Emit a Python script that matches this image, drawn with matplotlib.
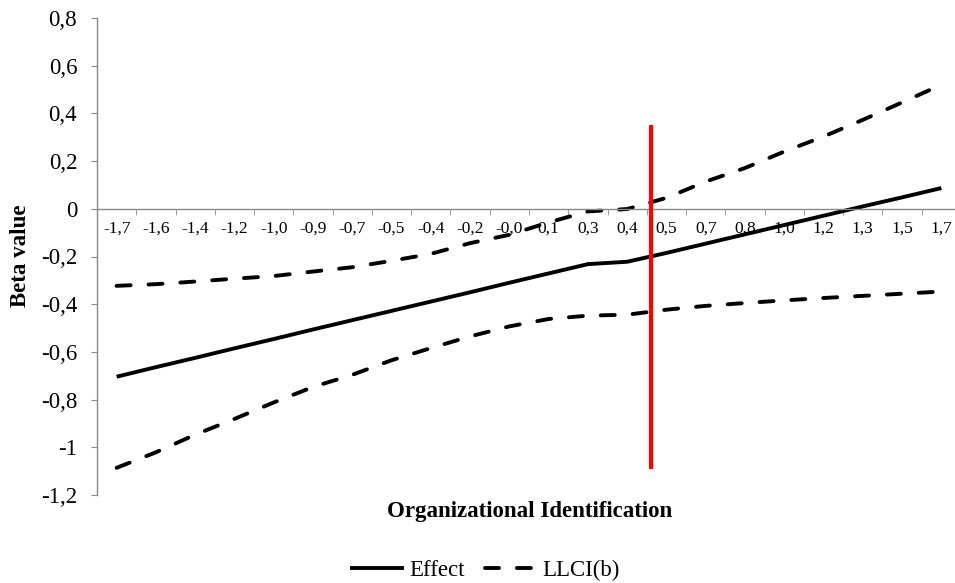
import numpy as np
import matplotlib
matplotlib.use("Agg")
import matplotlib.pyplot as plt
from matplotlib.lines import Line2D

plt.rcParams['font.family'] = ['Liberation Serif', 'DejaVu Serif']

# moderator values (category labels)
oi_labels = ['-1,7', '-1,6', '-1,4', '-1,2', '-1,0', '-0,9', '-0,7', '-0,5',
             '-0,4', '-0,2', '-0,0', '0,1', '0,3', '0,4', '0,5', '0,7',
             '0,8', '1,0', '1,2', '1,3', '1,5', '1,7']

effect = [-0.704, -0.664, -0.625, -0.585, -0.546, -0.506, -0.467, -0.428,
          -0.389, -0.350, -0.310, -0.271, -0.232, -0.222, -0.185, -0.146,
          -0.107, -0.068, -0.029, 0.010, 0.048, 0.087]
llci = [-1.086, -1.021, -0.947, -0.881, -0.812, -0.747, -0.696, -0.635,
        -0.584, -0.535, -0.493, -0.462, -0.448, -0.444, -0.423, -0.407,
        -0.395, -0.384, -0.374, -0.365, -0.356, -0.347]
ulci = [-0.323, -0.316, -0.305, -0.293, -0.282, -0.263, -0.245, -0.218,
        -0.189, -0.144, -0.109, -0.057, -0.011, -0.001, 0.046, 0.114,
        0.171, 0.240, 0.303, 0.373, 0.446, 0.520]

# Johnson-Neyman marker (between 0,4 and 0,5)
jn_x = 13.6
jn_y = [0.345, -1.081]

yticks = [0.8, 0.6, 0.4, 0.2, 0, -0.2, -0.4, -0.6, -0.8, -1, -1.2]
ytick_labels = ['0,8', '0,6', '0,4', '0,2', '0', '-0,2', '-0,4', '-0,6', '-0,8', '-1', '-1,2']

W, H = 955, 583
fig = plt.figure(figsize=(W / 100, H / 100), dpi=100)
ax = fig.add_axes([97 / W, 1 - 495 / H, 864 / W, 477 / H])

x = np.arange(len(oi_labels))
dash = (0, (3.6, 4.6))
ax.plot(x, effect, color='black', lw=2.8, solid_capstyle='butt')
ax.plot(x, llci, color='black', lw=2.8, linestyle=dash, dash_capstyle='round')
ax.plot(x, ulci, color='black', lw=2.8, linestyle=dash, dash_capstyle='round')
ax.plot([jn_x, jn_x], jn_y, color='#ff0000', lw=3, zorder=5)

ax.set_xlim(-0.5, len(oi_labels) - 0.5)
ax.set_ylim(-1.2, 0.8)

gray = '#898989'
for s in ['top', 'right']:
    ax.spines[s].set_visible(False)
ax.spines['left'].set_color(gray)
ax.spines['bottom'].set_color(gray)
ax.spines['bottom'].set_position(('data', 0))
ax.spines['left'].set_linewidth(1)
ax.spines['bottom'].set_linewidth(1)

ax.set_xticks(x)
ax.set_xticklabels(oi_labels, fontsize=12.5)
ax.set_xticks(np.arange(-0.5, len(oi_labels)), minor=True)
ax.tick_params(axis='x', which='major', length=0, pad=8.5)
ax.tick_params(axis='x', which='minor', length=4, color=gray, direction='out')

ax.set_yticks(yticks)
ax.set_yticklabels(ytick_labels, fontsize=16.5)
ax.tick_params(axis='y', length=4.3, color=gray, pad=10)

fig.text(20 / W, 1 - 256 / H, 'Beta value', rotation=90, fontsize=16.5,
         fontweight='bold', ha='center', va='center')
fig.text(530 / W, 1 - 512 / H, 'Organizational Identification', fontsize=16.5,
         fontweight='bold', ha='center', va='center')

handles = [Line2D([], [], color='black', lw=2.8),
           Line2D([], [], color='black', lw=2.8, linestyle=dash, dash_capstyle='round')]
fig.legend(handles, ['Effect', 'LLCI(b)'], loc='center', ncol=2,
           bbox_to_anchor=(486 / W, 1 - 570 / H), frameon=False, fontsize=16.5,
           handlelength=2.2, handletextpad=0.3, columnspacing=0.9)

fig.savefig('out.png', dpi=100)
